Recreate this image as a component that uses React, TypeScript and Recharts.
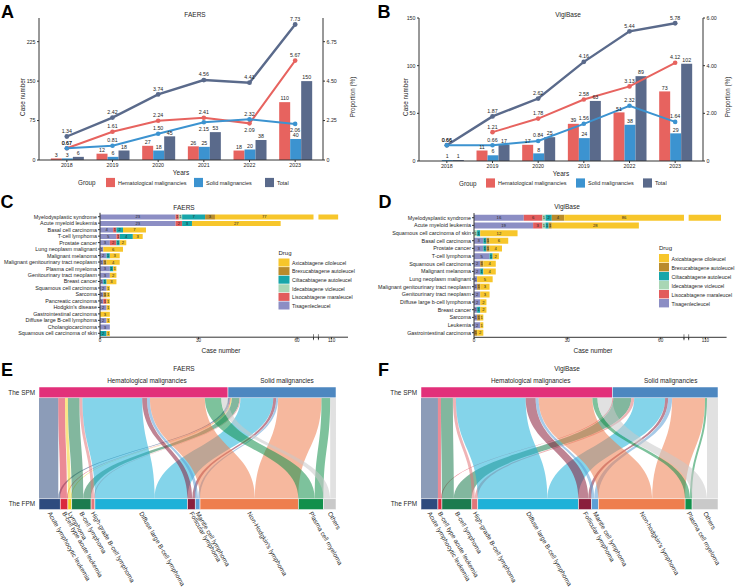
import React from 'react';
import { ComposedChart, BarChart, Bar, Line, XAxis, YAxis, LabelList, Sankey } from 'recharts';

const FONT = '"Liberation Sans", Arial, Helvetica, sans-serif';
const INK = '#262626';
const AXIS = '#333333';

const HEM_COLOR = '#E7635F';
const SOLID_COLOR = '#3C93D0';
const TOTAL_COLOR = '#5A6A8B';

// ---------- A: FAERS cases per year ----------
const faersYears = ['2018', '2019', '2020', '2021', '2022', '2023'];
const faersHemCases = [3, 12, 27, 26, 18, 110];
const faersSolidCases = [3, 6, 18, 25, 20, 40];
const faersTotalCases = [6, 18, 45, 53, 38, 150];
const faersHemPct = [0.67, 1.61, 2.24, 2.41, 2.09, 5.67];
const faersSolidPct = [0.67, 0.81, 1.5, 2.15, 2.32, 2.06];
const faersTotalPct = [1.34, 2.42, 3.74, 4.56, 4.41, 7.73];
const faersCaseTicks = [0, 75, 150, 225];
const faersPctTicks = [0, 2.25, 4.5, 6.75];

// ---------- B: VigiBase cases per year ----------
const vigiYears = ['2018', '2019', '2020', '2019', '2022', '2023'];
const vigiHemCases = [null, 11, 17, 39, 51, 73];
const vigiSolidCases = [1, 6, 8, 24, 38, 29];
const vigiTotalCases = [1, 17, 25, 63, 89, 102];
const vigiHemPct = [null, 1.21, 1.78, 2.58, 3.13, 4.12];
const vigiSolidPct = [0.66, 0.66, 0.84, 1.56, 2.32, 1.64];
const vigiTotalPct = [0.66, 1.87, 2.62, 4.16, 5.44, 5.78];
const vigiCaseTicks = [0, 50, 100, 150];
const vigiPctTicks = [0, 2, 4, 6];

// where the proportion labels sit relative to their point
type Side = 'up' | 'down';
const faersHemSides: Side[] = ['up', 'up', 'up', 'up', 'down', 'up'];
const faersSolidSides: Side[] = ['up', 'up', 'up', 'down', 'up', 'down'];
const allUp: Side[] = ['up', 'up', 'up', 'up', 'up', 'up'];

// ---------- C / D: drugs per SPM type ----------
const DRUGS = [
  'Tisagenlecleucel',
  'Lisocabtagene maraleucel',
  'Idecabtagene vicleucel',
  'Ciltacabtagene autoleucel',
  'Brexucabtagene autoleucel',
  'Axicabtagene ciloleucel',
];
const DRUG_COLORS = ['#8C8EC4', '#E25C5C', '#A9D6B5', '#17A6AA', '#B98B2C', '#F7C62B'];

const faersSpm = [
  'Myelodysplastic syndrome',
  'Acute myeloid leukemia',
  'Basal cell carcinoma',
  'T-cell lymphoma',
  'Prostate cancer',
  'Lung neoplasm malignant',
  'Malignant melanoma',
  'Malignant genitourinary tract neoplasm',
  'Plasma cell myeloma',
  'Genitourinary tract neoplasm',
  'Breast cancer',
  'Squamous cell carcinoma',
  'Sarcoma',
  'Pancreatic carcinoma',
  "Hodgkin's disease",
  'Gastrointestinal carcinoma',
  'Diffuse large B-cell lymphoma',
  'Cholangiocarcinoma',
  'Squamous cell carcinoma of skin',
];
const faersTisa = [23, 23, 4, 5, 3, 1, 2, 1, 3, 3, 1, 2, 1, 1, 2, 0, 2, 3, 0];
const faersLiso = [1, 2, 1, 1, 2, 0, 0, 0, 0, 0, 0, 0, 0, 1, 0, 0, 0, 0, 0];
const faersIde = [1, 0, 0, 0, 0, 0, 0, 0, 0, 0, 0, 0, 0, 0, 0, 0, 0, 0, 0];
const faersCilta = [7, 3, 2, 4, 1, 0, 1, 0, 1, 0, 1, 0, 0, 0, 0, 0, 0, 0, 2];
const faersBrexu = [3, 0, 0, 0, 0, 0, 0, 1, 0, 0, 0, 0, 1, 0, 0, 0, 0, 0, 0];
const faersAxi = [77, 27, 7, 3, 2, 6, 3, 4, 1, 2, 3, 1, 1, 1, 1, 3, 1, 0, 1];

const vigiSpm = [
  'Myelodysplastic syndrome',
  'Acute myeloid leukemia',
  'Squamous cell carcinoma of skin',
  'Basal cell carcinoma',
  'Prostate cancer',
  'T-cell lymphoma',
  'Squamous cell carcinoma',
  'Malignant melanoma',
  'Lung neoplasm malignant',
  'Malignant genitourinary tract neoplasm',
  'Genitourinary tract neoplasm',
  'Diffuse large b-cell lymphoma',
  'Breast cancer',
  'Sarcoma',
  'Leukemia',
  'Gastrointestinal carcinoma',
];
const vigiTisa = [16, 19, 0, 3, 3, 5, 2, 2, 1, 1, 2, 2, 1, 1, 2, 0];
const vigiLiso = [6, 3, 0, 0, 0, 0, 0, 0, 0, 0, 0, 0, 0, 0, 0, 0];
const vigiIde = [1, 1, 1, 0, 0, 0, 0, 0, 0, 0, 0, 0, 0, 0, 0, 0];
const vigiCilta = [2, 1, 1, 1, 1, 1, 0, 1, 0, 0, 0, 0, 1, 0, 0, 0];
const vigiBrexu = [4, 1, 0, 1, 1, 0, 1, 0, 0, 1, 0, 0, 0, 1, 0, 1];
const vigiAxi = [86, 28, 12, 6, 4, 2, 4, 4, 5, 3, 3, 2, 2, 1, 1, 2];

// ---------- E / F: SPM -> FPM alluvium ----------
const SPM_GROUPS = ['Hematological malignancies', 'Solid malignancies'];
const SPM_COLORS: Record<string, string> = {
  'Hematological malignancies': '#E2307A',
  'Solid malignancies': '#4D87C0',
};
const FPM_COLORS: Record<string, string> = {
  'Acute lymphocytic leukemia': '#2E4B7E',
  'B-cell type acute leukemia': '#DA2A3E',
  Lymphoma: '#F4D124',
  'B-cell lymphoma': '#1B7B4F',
  'High-grade B-cell lymphoma': '#E2767A',
  'Diffuse large B-cell lymphoma': '#1FB1D8',
  'Follicular lymphoma': '#8A1F3D',
  'Mantle cell lymphoma': '#5C9FD6',
  "Non-Hodgkin's lymphoma": '#EE7E4E',
  "Non-hodgkin's lymphoma": '#EE7E4E',
  'Plasma cell myeloma': '#12904B',
  Others: '#C9C9C9',
};

const faersFpm = [
  'Acute lymphocytic leukemia',
  'B-cell type acute leukemia',
  'Lymphoma',
  'B-cell lymphoma',
  'High-grade B-cell lymphoma',
  'Diffuse large B-cell lymphoma',
  'Follicular lymphoma',
  'Mantle cell lymphoma',
  "Non-Hodgkin's lymphoma",
  'Plasma cell myeloma',
  'Others',
];
const faersFromHem = [20, 7, 3, 12, 3, 62, 5, 3, 57, 17, 7];
const faersFromSolid = [2, 1, 1, 8, 1, 34, 3, 2, 45, 9, 6];

const vigiFpm = [
  'Acute lymphocytic leukemia',
  'B-cell type acute leukemia',
  'B-cell lymphoma',
  'High-grade B-cell lymphoma',
  'Diffuse large B-cell lymphoma',
  'Follicular lymphoma',
  'Mantle cell lymphoma',
  "Non-hodgkin's lymphoma",
  'Plasma cell myeloma',
  'Others',
];
const vigiFromHem = [17, 3, 12, 3, 70, 10, 3, 54, 5, 15];
const vigiFromSolid = [0, 1, 18, 3, 31, 3, 4, 33, 2, 11];

// ================= helpers =================
function pick(props: any, key: 'x' | 'y' | 'width' | 'height') {
  const v = props[key];
  if (v != null) return Number(v);
  return Number(props.viewBox?.[key] ?? 0);
}

const barValueLabel = (props: any) => {
  const { value } = props;
  if (value == null) return null;
  const x = pick(props, 'x');
  const y = pick(props, 'y');
  const w = pick(props, 'width');
  return (
    <text x={x + w / 2} y={y - 1.8} textAnchor="middle" fontSize={5.3} fill={INK} fontFamily={FONT}>
      {value}
    </text>
  );
};

const pctLabel = (sides: Side[]) => (props: any) => {
  const { value, index } = props;
  if (value == null) return null;
  const x = pick(props, 'x');
  const y = pick(props, 'y');
  const down = sides[index] === 'down';
  return (
    <text x={x} y={down ? y + 8.5 : y - 3.6} textAnchor="middle" fontSize={5.3} fill={INK} fontFamily={FONT}>
      {Number(value).toFixed(2)}
    </text>
  );
};

function trendRows(
  hem: (number | null)[],
  solid: number[],
  total: number[],
  hemPct: (number | null)[],
  solidPct: number[],
  totalPct: number[],
) {
  return total.map((_, i) => ({
    slot: String(i),
    hem: hem[i],
    solid: solid[i],
    total: total[i],
    hemPct: hemPct[i],
    solidPct: solidPct[i],
    totalPct: totalPct[i],
  }));
}

type TrendProps = {
  rows: any[];
  labels: string[];
  leftMax: number;
  leftTicks: number[];
  rightMax: number;
  rightTicks: number[];
  hemSides: Side[];
  solidSides: Side[];
  margin: { top: number; right: number; bottom: number; left: number };
};

function TrendChart(p: TrendProps) {
  const tick = { fontSize: 5.3, fill: INK, fontFamily: FONT };
  return (
    <ComposedChart width={369} height={200} data={p.rows} margin={p.margin} barCategoryGap="15%" barGap={0}>
      <XAxis
        dataKey="slot"
        interval={0}
        tickFormatter={(_v: any, i: number) => p.labels[i]}
        tick={tick}
        tickSize={2}
        tickMargin={1.5}
        height={12}
        stroke={AXIS}
        padding={{ left: 5, right: 5 }}
      />
      <YAxis
        yAxisId="cases"
        domain={[0, p.leftMax]}
        ticks={p.leftTicks}
        allowDataOverflow
        tick={tick}
        tickSize={2}
        tickMargin={1.5}
        width={25}
        stroke={AXIS}
      />
      <YAxis
        yAxisId="pct"
        orientation="right"
        domain={[0, p.rightMax]}
        ticks={p.rightTicks}
        allowDataOverflow
        tickFormatter={(v: number) => (v === 0 ? '0' : v.toFixed(2))}
        tick={tick}
        tickSize={2}
        tickMargin={1.5}
        width={25}
        stroke={AXIS}
      />
      <Bar yAxisId="cases" dataKey="hem" fill={HEM_COLOR} isAnimationActive={false}>
        <LabelList dataKey="hem" content={barValueLabel} />
      </Bar>
      <Bar yAxisId="cases" dataKey="solid" fill={SOLID_COLOR} isAnimationActive={false}>
        <LabelList dataKey="solid" content={barValueLabel} />
      </Bar>
      <Bar yAxisId="cases" dataKey="total" fill={TOTAL_COLOR} isAnimationActive={false}>
        <LabelList dataKey="total" content={barValueLabel} />
      </Bar>
      <Line
        yAxisId="pct"
        type="linear"
        dataKey="totalPct"
        stroke={TOTAL_COLOR}
        strokeWidth={2.4}
        dot={{ r: 2.4, fill: TOTAL_COLOR, stroke: TOTAL_COLOR, strokeWidth: 0 }}
        isAnimationActive={false}
      >
        <LabelList dataKey="totalPct" content={pctLabel(allUp)} />
      </Line>
      <Line
        yAxisId="pct"
        type="linear"
        dataKey="hemPct"
        stroke={HEM_COLOR}
        strokeWidth={2}
        dot={{ r: 2.3, fill: HEM_COLOR, stroke: HEM_COLOR, strokeWidth: 0 }}
        isAnimationActive={false}
      >
        <LabelList dataKey="hemPct" content={pctLabel(p.hemSides)} />
      </Line>
      <Line
        yAxisId="pct"
        type="linear"
        dataKey="solidPct"
        stroke={SOLID_COLOR}
        strokeWidth={2}
        dot={{ r: 2.3, fill: SOLID_COLOR, stroke: SOLID_COLOR, strokeWidth: 0 }}
        isAnimationActive={false}
      >
        <LabelList dataKey="solidPct" content={pctLabel(p.solidSides)} />
      </Line>
    </ComposedChart>
  );
}

// stacked rows with a broken value axis: values in (lo, hi) are cut out
function stackRows(names: string[], counts: number[][], lo: number, hi: number, gap: number) {
  return names.map((name, r) => {
    const row: Record<string, any> = { name };
    let c = 0;
    counts.forEach((series, d) => {
      const v = series[r];
      const s = c;
      const e = c + v;
      row[`pre${d}`] = Math.max(0, Math.min(e, lo) - Math.min(s, lo));
      row[`post${d}`] = Math.max(0, Math.max(e, hi) - Math.max(s, hi));
      row[`raw${d}`] = v;
      c = e;
    });
    row.gap = c > hi ? gap : 0;
    row.end = 0;
    row.total = c;
    return row;
  });
}

const segLabel = (props: any) => {
  const { value } = props;
  const w = pick(props, 'width');
  if (!value || w <= 0.5) return null;
  const x = pick(props, 'x');
  const y = pick(props, 'y');
  const h = pick(props, 'height');
  return (
    <text x={x + w / 2} y={y + h / 2} textAnchor="middle" dominantBaseline="central" fontSize={4.2} fill={INK} fontFamily={FONT}>
      {value}
    </text>
  );
};

const totalLabel = (props: any) => {
  const { value } = props;
  if (value == null) return null;
  const x = pick(props, 'x');
  const y = pick(props, 'y');
  const w = pick(props, 'width');
  const h = pick(props, 'height');
  return (
    <text x={x + w + 2} y={y + h / 2} dominantBaseline="central" fontSize={4.2} fill={INK} fontFamily={FONT}>
      {value}
    </text>
  );
};

// single-line category label (no wrapping)
const CategoryTick = (tp: any) => (
  <text
    x={Number(tp.x)}
    y={Number(tp.y)}
    textAnchor="end"
    dominantBaseline="central"
    fontSize={5.4}
    fill={INK}
    fontFamily={FONT}
  >
    {tp.payload?.value}
  </text>
);

type DrugProps = {
  names: string[];
  counts: number[][];
  lo: number;
  hi: number;
  gap: number;
  axisMax: number;
  yWidth: number;
  margin: { top: number; right: number; bottom: number; left: number };
  bandPad: number;
  barSize: number;
};

function DrugChart(p: DrugProps) {
  const rows = stackRows(p.names, p.counts, p.lo, p.hi, p.gap);
  const disp = (v: number) => (v <= p.lo ? v : p.lo + p.gap + (v - p.hi));
  const tickLabels = new Map<number, string>([
    [0, '0'],
    [30, '30'],
    [60, '60'],
    [disp(110), '110'],
  ]);
  const breaks = [p.lo, p.lo + p.gap];
  const ticks = [0, 30, 60, ...breaks, disp(110)];
  const XTick = (tp: any) => {
    const v = tp.payload?.value;
    const x = Number(tp.x);
    const y = Number(tp.y);
    if (breaks.includes(v)) {
      return <line x1={x} x2={x} y1={y - 6} y2={y} stroke={AXIS} strokeWidth={0.6} />;
    }
    return (
      <text x={x} y={y + 2} textAnchor="middle" fontSize={4.6} fill={INK} fontFamily={FONT}>
        {tickLabels.get(v) ?? ''}
      </text>
    );
  };
  const idx = DRUGS.map((_, d) => d);
  return (
    <BarChart width={369} height={160} data={rows} layout="vertical" margin={p.margin} barSize={p.barSize}>
      <XAxis
        type="number"
        domain={[0, p.axisMax]}
        ticks={ticks}
        allowDataOverflow
        tick={XTick}
        tickSize={2}
        tickMargin={1}
        height={10}
        stroke={AXIS}
        interval={0}
      />
      <YAxis
        type="category"
        dataKey="name"
        width={p.yWidth}
        interval={0}
        tick={CategoryTick}
        tickSize={2}
        tickMargin={1}
        stroke={AXIS}
        padding={{ top: p.bandPad, bottom: p.bandPad }}
      />
      {idx.map((d) => (
        <Bar key={`pre${d}`} dataKey={`pre${d}`} stackId="s" fill={DRUG_COLORS[d]} isAnimationActive={false}>
          <LabelList dataKey={`raw${d}`} content={segLabel} />
        </Bar>
      ))}
      <Bar dataKey="gap" stackId="s" fill="rgba(0,0,0,0)" isAnimationActive={false} />
      {idx.map((d) => (
        <Bar key={`post${d}`} dataKey={`post${d}`} stackId="s" fill={DRUG_COLORS[d]} isAnimationActive={false} />
      ))}
      <Bar dataKey="end" stackId="s" fill="none" isAnimationActive={false}>
        <LabelList dataKey="total" content={totalLabel} />
      </Bar>
    </BarChart>
  );
}

// vertical alluvium: a Sankey drawn left-to-right, then transposed
const FLOW_LEN = 122.6;
const FLOW_SPAN = 297;

function flowData(fpm: string[], fromHem: number[], fromSolid: number[]) {
  const nodes = [...SPM_GROUPS.map((name) => ({ name })), ...fpm.map((name) => ({ name }))];
  const links: { source: number; target: number; value: number }[] = [];
  fpm.forEach((_, i) => {
    if (fromHem[i] > 0) links.push({ source: 0, target: i + 2, value: fromHem[i] });
    if (fromSolid[i] > 0) links.push({ source: 1, target: i + 2, value: fromSolid[i] });
  });
  return { nodes, links };
}

const flowNode = (props: any) => {
  const { x, y, width, height, payload } = props;
  const name = payload?.name as string;
  const isTop = SPM_GROUPS.includes(name);
  const fill = isTop ? SPM_COLORS[name] : FPM_COLORS[name] ?? '#ccc';
  const cx = y + height / 2;
  const by = x + width + 2.5;
  return (
    <g>
      <rect x={x} y={y} width={width} height={height} fill={fill} stroke="#ffffff" strokeWidth={0.5} />
      {!isTop && (
        <g transform="matrix(0,1,1,0,0,0)">
          <text
            x={cx}
            y={by}
            transform={`rotate(60 ${cx} ${by})`}
            fontSize={6.4}
            fill={INK}
            fontFamily={FONT}
            dominantBaseline="central"
          >
            {name}
          </text>
        </g>
      )}
    </g>
  );
};

const flowLink = (props: any) => {
  const { sourceX, targetX, sourceY, targetY, sourceControlX, targetControlX, linkWidth, payload } = props;
  const h = linkWidth / 2;
  const tname = payload?.target?.name as string;
  const d =
    `M${sourceX},${sourceY - h} C${sourceControlX},${sourceY - h} ${targetControlX},${targetY - h} ${targetX},${targetY - h} ` +
    `L${targetX},${targetY + h} C${targetControlX},${targetY + h} ${sourceControlX},${sourceY + h} ${sourceX},${sourceY + h} Z`;
  return <path d={d} fill={FPM_COLORS[tname] ?? '#bbb'} fillOpacity={0.55} stroke="none" />;
};

function Alluvial({ left, top, fpm, fromHem, fromSolid }: any) {
  const data = flowData(fpm, fromHem, fromSolid);
  return (
    <div
      style={{
        position: 'absolute',
        left,
        top,
        width: FLOW_LEN,
        height: FLOW_SPAN,
        transform: 'matrix(0,1,1,0,0,0)',
        transformOrigin: '0 0',
      }}
    >
      <Sankey
        width={FLOW_LEN}
        height={FLOW_SPAN}
        data={data}
        nodeWidth={10.8}
        nodePadding={0}
        iterations={0}
        sort={false}
        linkCurvature={0.5}
        margin={{ top: 0, right: 0, bottom: 0, left: 0 }}
        node={flowNode}
        link={flowLink}
      />
    </div>
  );
}

function Tx({ x, y, size, anchor = 'start', rot = 0, bold = false, children }: any) {
  return (
    <text
      x={x}
      y={y}
      fontSize={size}
      textAnchor={anchor}
      dominantBaseline="central"
      fontWeight={bold ? 700 : 400}
      fill={bold ? '#000' : INK}
      transform={rot ? `rotate(${rot} ${x} ${y})` : undefined}
    >
      {children}
    </text>
  );
}

function GroupLegend({ x0, keys, y }: { x0: number; keys: number[]; y: number }) {
  const names = ['Hematological malignancies', 'Solid malignancies', 'Total'];
  const colors = [HEM_COLOR, SOLID_COLOR, TOTAL_COLOR];
  return (
    <g>
      <Tx x={x0} y={y} size={6.3}>
        Group
      </Tx>
      {names.map((n, i) => (
        <g key={n}>
          <rect x={keys[i]} y={y - 4.6} width={9} height={9.2} fill={colors[i]} />
          <Tx x={keys[i] + 12} y={y} size={5.5}>
            {n}
          </Tx>
        </g>
      ))}
    </g>
  );
}

function DrugLegend({ x, y, step, kw }: { x: number; y: number; step: number; kw: number }) {
  const order = [5, 4, 3, 2, 1, 0];
  return (
    <g>
      <Tx x={x} y={y} size={6}>
        Drug
      </Tx>
      {order.map((d, i) => (
        <g key={d}>
          <rect x={x} y={y + 6 + i * step} width={kw} height={step - 0.6} fill={DRUG_COLORS[d]} />
          <Tx x={x + kw + 2.5} y={y + 6 + i * step + step / 2} size={5.2}>
            {DRUGS[d]}
          </Tx>
        </g>
      ))}
    </g>
  );
}

export default function App() {
  const faersRows = trendRows(faersHemCases, faersSolidCases, faersTotalCases, faersHemPct, faersSolidPct, faersTotalPct);
  const vigiRows = trendRows(vigiHemCases, vigiSolidCases, vigiTotalCases, vigiHemPct, vigiSolidPct, vigiTotalPct);
  const faersCounts = [faersTisa, faersLiso, faersIde, faersCilta, faersBrexu, faersAxi];
  const vigiCounts = [vigiTisa, vigiLiso, vigiIde, vigiCilta, vigiBrexu, vigiAxi];

  return (
    <div style={{ position: 'relative', width: 738, height: 588, background: '#fff', fontFamily: FONT, overflow: 'hidden' }}>
      <style>{'body{margin:0} .recharts-surface{overflow:visible}'}</style>

      <div style={{ position: 'absolute', left: 0, top: 0 }}>
        <TrendChart
          rows={faersRows}
          labels={faersYears}
          leftMax={270}
          leftTicks={faersCaseTicks}
          rightMax={8.1}
          rightTicks={faersPctTicks}
          hemSides={faersHemSides}
          solidSides={faersSolidSides}
          margin={{ top: 18, right: 21, bottom: 28, left: 14 }}
        />
      </div>
      <div style={{ position: 'absolute', left: 369, top: 0 }}>
        <TrendChart
          rows={vigiRows}
          labels={vigiYears}
          leftMax={150}
          leftTicks={vigiCaseTicks}
          rightMax={6}
          rightTicks={vigiPctTicks}
          hemSides={allUp}
          solidSides={allUp}
          margin={{ top: 18, right: 10, bottom: 27, left: 25 }}
        />
      </div>

      <div style={{ position: 'absolute', left: 0, top: 195 }}>
        <DrugChart
          names={faersSpm}
          counts={faersCounts}
          lo={65}
          hi={106}
          gap={1.5}
          axisMax={75.5}
          yWidth={100}
          margin={{ top: 17.8, right: 21, bottom: 7.8, left: 0 }}
          bandPad={0.65}
          barSize={5}
        />
      </div>
      <div style={{ position: 'absolute', left: 369, top: 195 }}>
        <DrugChart
          names={vigiSpm}
          counts={vigiCounts}
          lo={67.5}
          hi={104.6}
          gap={1.5}
          axisMax={81.2}
          yWidth={105}
          margin={{ top: 18.1, right: 11.4, bottom: 7.7, left: 0 }}
          bandPad={0.77}
          barSize={6}
        />
      </div>

      <Alluvial left={39} top={386.7} fpm={faersFpm} fromHem={faersFromHem} fromSolid={faersFromSolid} />
      <Alluvial left={421} top={386.7} fpm={vigiFpm} fromHem={vigiFromHem} fromSolid={vigiFromSolid} />

      <svg
        width={738}
        height={588}
        style={{ position: 'absolute', left: 0, top: 0, pointerEvents: 'none', overflow: 'visible' }}
        fontFamily={FONT}
      >
        {/* panel letters */}
        <Tx x={1} y={11.6} size={18} bold>A</Tx>
        <Tx x={377.5} y={11.6} size={18} bold>B</Tx>
        <Tx x={0.5} y={201.5} size={18} bold>C</Tx>
        <Tx x={378.5} y={201.5} size={18} bold>D</Tx>
        <Tx x={1} y={369.5} size={18} bold>E</Tx>
        <Tx x={378} y={369.5} size={18} bold>F</Tx>

        {/* A */}
        <Tx x={195} y={14.5} size={6.5} anchor="middle">FAERS</Tx>
        <Tx x={22.7} y={97} size={6.3} anchor="middle" rot={-90}>Case number</Tx>
        <Tx x={352} y={97} size={6.3} anchor="middle" rot={-90}>Proportion (%)</Tx>
        <Tx x={181} y={172} size={6.5} anchor="middle">Years</Tx>
        <GroupLegend x0={78} keys={[106, 194, 265]} y={182.5} />

        {/* B */}
        <Tx x={568} y={14.5} size={6.5} anchor="middle">VigiBase</Tx>
        <Tx x={405.7} y={97} size={6.3} anchor="middle" rot={-90}>Case number</Tx>
        <Tx x={727} y={97} size={6.3} anchor="middle" rot={-90}>Proportion (%)</Tx>
        <Tx x={561} y={173} size={6.5} anchor="middle">Years</Tx>
        <GroupLegend x0={459} keys={[486, 576, 643]} y={183} />

        {/* C */}
        <Tx x={184} y={207} size={6.5} anchor="middle">FAERS</Tx>
        <Tx x={221} y={350} size={6.5} anchor="middle">Case number</Tx>
        <DrugLegend x={278.5} y={252.5} step={8.6} kw={11} />

        {/* D */}
        <Tx x={567} y={206.5} size={6.5} anchor="middle">VigiBase</Tx>
        <Tx x={593} y={350.5} size={6.5} anchor="middle">Case number</Tx>
        <DrugLegend x={659} y={248} step={9} kw={10} />

        {/* E */}
        <Tx x={184} y={368.5} size={6.5} anchor="middle">FAERS</Tx>
        <Tx x={147} y={380} size={6.4} anchor="middle">Hematological malignancies</Tx>
        <Tx x={287} y={380} size={6.4} anchor="middle">Solid malignancies</Tx>
        <Tx x={35} y={392} size={6.4} anchor="end">The SPM</Tx>
        <Tx x={35} y={503.8} size={6.4} anchor="end">The FPM</Tx>

        {/* F */}
        <Tx x={567} y={368.5} size={6.5} anchor="middle">VigiBase</Tx>
        <Tx x={530.7} y={380} size={6.4} anchor="middle">Hematological malignancies</Tx>
        <Tx x={670.7} y={380} size={6.4} anchor="middle">Solid malignancies</Tx>
        <Tx x={417} y={392} size={6.4} anchor="end">The SPM</Tx>
        <Tx x={417} y={503.8} size={6.4} anchor="end">The FPM</Tx>
      </svg>
    </div>
  );
}
